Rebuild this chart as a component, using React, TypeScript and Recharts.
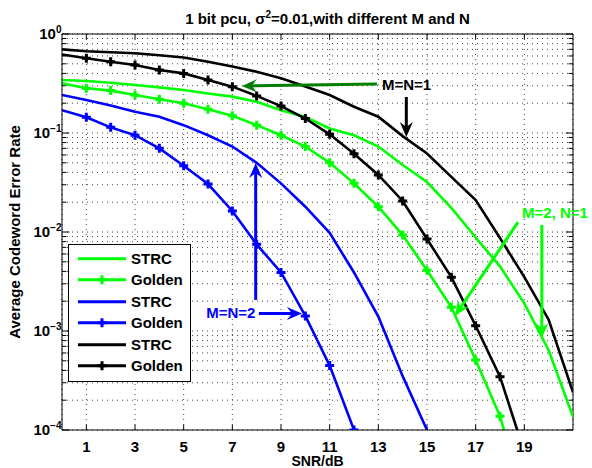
import React from "react";
import {
  LineChart,
  Line,
  XAxis,
  YAxis,
  CartesianGrid,
  ReferenceLine,
  ReferenceDot,
  Legend,
  Label,
} from "recharts";

const FONT = '"Liberation Sans", Arial, Helvetica, sans-serif';

// SNR in dB
const snr = [0, 1, 2, 3, 4, 5, 6, 7, 8, 9, 10, 11, 12, 13, 14, 15, 16, 17, 18, 19, 20, 21];

// M=2, N=1 (green)
const greenStrc = [0.343, 0.335, 0.322, 0.305, 0.289, 0.272, 0.251, 0.233, 0.207, 0.17, 0.145, 0.111, 0.095, 0.073, 0.0475, 0.032, 0.0175, 0.0088, 0.0045, 0.0019, 0.00064, 0.000136];
const greenGolden = [0.318, 0.283, 0.268, 0.242, 0.219, 0.2, 0.174, 0.149, 0.12, 0.095, 0.073, 0.05, 0.031, 0.018, 0.0093, 0.0041, 0.00174, 0.00051, 0.000138, 0.00002];

// M=N=2 (blue)
const blueStrc = [0.242, 0.215, 0.19, 0.164, 0.146, 0.12, 0.095, 0.073, 0.05, 0.031, 0.018, 0.0098, 0.0039, 0.0014, 0.00035, 0.0001];
const blueGolden = [0.17, 0.144, 0.114, 0.095, 0.07, 0.0467, 0.0305, 0.0163, 0.0075, 0.0039, 0.00142, 0.000447, 0.0001];

// M=N=1 (black)
const blackStrc = [0.7, 0.67, 0.655, 0.64, 0.61, 0.58, 0.525, 0.47, 0.416, 0.357, 0.295, 0.242, 0.184, 0.146, 0.093, 0.062, 0.036, 0.021, 0.0087, 0.0035, 0.0013, 0.00024];
const blackGolden = [0.62, 0.57, 0.525, 0.486, 0.433, 0.4, 0.343, 0.294, 0.237, 0.187, 0.14, 0.097, 0.0617, 0.0377, 0.0206, 0.0085, 0.0035, 0.00113, 0.000346, 0.00006];

const xTicks = [1, 3, 5, 7, 9, 11, 13, 15, 17, 19];
const yMajor = [1e-4, 1e-3, 1e-2, 1e-1, 1];
const yMinor: number[] = [];
[1e-4, 1e-3, 1e-2, 1e-1].forEach((d) => {
  for (let k = 2; k <= 9; k++) yMinor.push(+(k * d).toPrecision(3));
});

// annotation arrows, data coords [snr, rate]
const arrows = [
  { color: "#007f00", from: [12.94, 0.313], to: [7.39, 0.298] },
  { color: "#000000", from: [14.15, 0.231], to: [14.15, 0.0912] },
  { color: "#0000ff", from: [8.09, 0.0015], to: [9.86, 0.0015] },
  { color: "#0000ff", from: [7.96, 0.00206], to: [7.96, 0.0498] },
  { color: "#00ff00", from: [18.74, 0.0126], to: [16.15, 0.00142] },
  { color: "#00ff00", from: [19.72, 0.01177], to: [19.72, 0.00085] },
];
const notes = [
  { text: "M=N=1", color: "#000000", x: 14.16, y: 0.305 },
  { text: "M=N=2", color: "#0000ff", x: 6.94, y: 0.00152 },
  { text: "M=2, N=1", color: "#00ff00", x: 20.26, y: 0.01556 },
];

const series = [
  { key: "gs", name: "STRC", color: "#00ff00", values: greenStrc, marker: false },
  { key: "gg", name: "Golden", color: "#00ff00", values: greenGolden, marker: true },
  { key: "bs", name: "STRC", color: "#0000ff", values: blueStrc, marker: false },
  { key: "bg", name: "Golden", color: "#0000ff", values: blueGolden, marker: true },
  { key: "ks", name: "STRC", color: "#000000", values: blackStrc, marker: false },
  { key: "kg", name: "Golden", color: "#000000", values: blackGolden, marker: true },
];

const data = snr.map((s, i) => {
  const row: any = { snr: s };
  series.forEach((se) => {
    row[se.key] = se.values[i];
  });
  return row;
});

// chunky "+" marker like matlab's with a thick line
const Marker = ({ cx, cy, color }: { cx: number; cy: number; color: string }) => (
  <g>
    <path
      d={`M${cx - 4.5},${cy}H${cx + 4.5}M${cx},${cy - 4.5}V${cy + 4.5}`}
      stroke={color}
      strokeWidth={3}
      fill="none"
    />
    <path d={`M${cx - 3},${cy}L${cx},${cy - 3}L${cx + 3},${cy}L${cx},${cy + 3}Z`} fill={color} />
  </g>
);

const plusDot = (color: string) => (p: any) => {
  const { cx, cy, index, value } = p;
  if (index === 0 || value == null || value < 1e-4 || cx == null || cy == null)
    return <g key={`d${index}`} />;
  return (
    <g key={`d${index}`}>
      <Marker cx={cx} cy={cy} color={color} />
    </g>
  );
};

const arrowShape = (color: string) => (p: any) => {
  const { x1, y1, x2, y2 } = p;
  const dx = x2 - x1;
  const dy = y2 - y1;
  const len = Math.hypot(dx, dy) || 1;
  const ux = dx / len;
  const uy = dy / len;
  const head = 15;
  const half = 6.5;
  const notch = 5;
  const bx = x2 - ux * head;
  const by = y2 - uy * head;
  const nx = x2 - ux * (head - notch);
  const ny = y2 - uy * (head - notch);
  const px = -uy;
  const py = ux;
  return (
    <g>
      <line x1={x1} y1={y1} x2={nx} y2={ny} stroke={color} strokeWidth={3} />
      <polygon
        points={`${x2},${y2} ${bx + px * half},${by + py * half} ${nx},${ny} ${bx - px * half},${by - py * half}`}
        fill={color}
      />
    </g>
  );
};

const YTick = (p: any) => {
  const v = p.payload.value;
  const exp = Math.round(Math.log10(v));
  return (
    <text x={p.x + 7.5} y={p.y + 5.3} textAnchor="end" fontFamily={FONT} fontWeight="bold" fontSize={15} fill="#000">
      10
      <tspan dy={-6.8} fontSize={10}>
        {exp < 0 ? `\u2212${-exp}` : `${exp}`}
      </tspan>
    </text>
  );
};

const XTick = (p: any) => (
  <text x={p.x} y={p.y + 13.5} textAnchor="middle" fontFamily={FONT} fontWeight="bold" fontSize={15} fill="#000">
    {p.payload.value}
  </text>
);

const LegendBox = () => (
  <div
    style={{
      boxSizing: "border-box",
      width: 123,
      height: 138,
      border: "1px solid #000",
      background: "#fff",
      paddingTop: 2.5,
      fontFamily: FONT,
    }}
  >
    {series.map((se) => (
      <div key={se.key} style={{ display: "flex", alignItems: "center", height: 21.5 }}>
        <svg width={62} height={21.5} style={{ display: "block" }}>
          <line x1={9} x2={57} y1={10.75} y2={10.75} stroke={se.color} strokeWidth={3} />
          {se.marker && <Marker cx={33} cy={10.75} color={se.color} />}
        </svg>
        <span style={{ fontSize: 15, fontWeight: "bold", color: "#000", lineHeight: "21.5px" }}>{se.name}</span>
      </div>
    ))}
  </div>
);

export default function App() {
  const tickSegs: any[] = [];
  yMajor.concat(yMinor).forEach((v) => {
    const l = yMajor.includes(v) ? 0.3 : 0.18;
    tickSegs.push([{ x: 0, y: v }, { x: l, y: v }]);
    tickSegs.push([{ x: 21 - l, y: v }, { x: 21, y: v }]);
  });
  xTicks.forEach((k) => {
    tickSegs.push([{ x: k, y: 1e-4 }, { x: k, y: 1.13e-4 }]);
    tickSegs.push([{ x: k, y: 0.885 }, { x: k, y: 1 }]);
  });

  return (
    <div style={{ position: "absolute", left: 0, top: 0, width: 592, height: 468, background: "#fff" }}>
      <LineChart width={592} height={468} data={data} margin={{ top: 34, right: 19, bottom: 0, left: 0 }}>
        <CartesianGrid horizontal={false} stroke="#444" strokeDasharray="1 4" />
        {yMajor.concat(yMinor).map((v) => (
          <ReferenceLine key={`g${v}`} y={v} stroke="#444" strokeDasharray="1 4" />
        ))}
        <XAxis
          dataKey="snr"
          type="number"
          domain={[0, 21]}
          ticks={xTicks}
          allowDataOverflow
          tickLine={false}
          stroke="#000"
          height={38}
          tick={<XTick />}
        >
          <Label
            content={(p: any) => (
              <text
                x={p.viewBox.x + p.viewBox.width / 2}
                y={466}
                textAnchor="middle"
                fontFamily={FONT}
                fontWeight="bold"
                fontSize={14}
                fill="#000"
              >
                SNR/dB
              </text>
            )}
          />
        </XAxis>
        <YAxis
          scale="log"
          domain={[1e-4, 1]}
          ticks={yMajor}
          allowDataOverflow
          tickLine={false}
          stroke="#000"
          width={62}
          tick={<YTick />}
        >
          <Label
            content={(p: any) => (
              <text
                transform={`translate(20, ${p.viewBox.y + p.viewBox.height / 2}) rotate(-90)`}
                textAnchor="middle"
                fontFamily={FONT}
                fontWeight="bold"
                fontSize={15}
                fill="#000"
              >
                Average Codeword Error Rate
              </text>
            )}
          />
        </YAxis>
        <ReferenceLine y={1} stroke="#000" />
        <ReferenceLine x={21} stroke="#000" />
        {tickSegs.map((s, i) => (
          <ReferenceLine key={`t${i}`} segment={s} stroke="#000" />
        ))}
        {series.map((se) => (
          <Line
            key={se.key}
            dataKey={se.key}
            name={se.name}
            stroke={se.color}
            strokeWidth={2.6}
            dot={se.marker ? plusDot(se.color) : false}
            activeDot={false}
            isAnimationActive={false}
            type="linear"
          />
        ))}
        {arrows.map((a, i) => (
          <ReferenceLine
            key={`a${i}`}
            segment={[
              { x: a.from[0], y: a.from[1] },
              { x: a.to[0], y: a.to[1] },
            ]}
            shape={arrowShape(a.color)}
          />
        ))}
        {notes.map((n) => (
          <ReferenceDot
            key={n.text}
            x={n.x}
            y={n.y}
            r={0}
            shape={(p: any) => (
              <text
                x={p.cx}
                y={p.cy + 5.3}
                textAnchor="middle"
                fontFamily={FONT}
                fontWeight="bold"
                fontSize={15}
                fill={n.color}
              >
                {n.text}
              </text>
            )}
          />
        ))}
        <Legend
          layout="vertical"
          align="center"
          verticalAlign="middle"
          wrapperStyle={{ left: 68, top: 244, width: 123, height: 138 }}
          content={() => <LegendBox />}
        />
        <text x={327.5} y={23.5} textAnchor="middle" fontFamily={FONT} fontWeight="bold" fontSize={15} fill="#000">
          1 bit pcu, σ<tspan dy={-6} fontSize={10}>2</tspan>
          <tspan dy={6}>=0.01,with different M and N</tspan>
        </text>
      </LineChart>
    </div>
  );
}
